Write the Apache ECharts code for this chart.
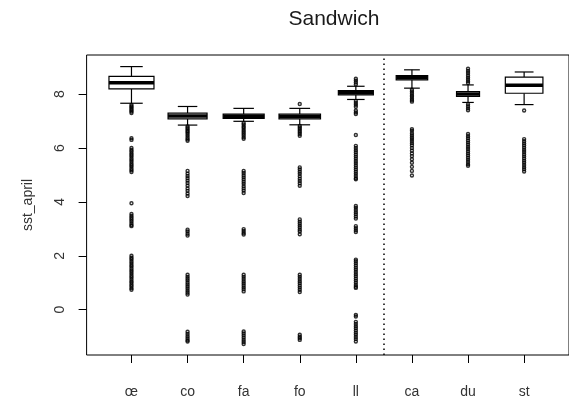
<!DOCTYPE html>
<html>
<head>
<meta charset="utf-8">
<script src="https://cdn.jsdelivr.net/npm/echarts@6/dist/echarts.min.js"></script>
<style>
  html, body { margin: 0; padding: 0; background: #fff; }
  #chart { width: 569px; height: 403px; }
</style>
</head>
<body>
<div id="chart"></div>
<script>
// Site groups along the x axis
const categories = ['œ', 'co', 'fa', 'fo', 'll', 'ca', 'du', 'st'];

// Box statistics for sst_april per site
const lowerWhisker = [7.66, 6.85, 6.99, 6.86, 7.80, 8.22, 7.69, 7.61];
const q1           = [8.19, 7.08, 7.10, 7.08, 7.97, 8.53, 7.91, 8.03];
const median       = [8.42, 7.19, 7.18, 7.17, 8.05, 8.61, 8.00, 8.33];
const q3           = [8.66, 7.29, 7.26, 7.26, 8.13, 8.69, 8.09, 8.63];
const upperWhisker = [9.02, 7.54, 7.47, 7.47, 8.29, 8.90, 8.34, 8.82];

// Points beyond the whiskers, one list per site
const outliers = [
  [7.60, 7.55, 7.50, 7.45, 7.40, 7.35, 7.30, 6.36, 6.30,
   6.00, 5.93, 5.87, 5.80, 5.74, 5.68, 5.61, 5.55, 5.49, 5.42, 5.36, 5.30, 5.23, 5.17, 5.11,
   3.95, 3.55, 3.48, 3.41, 3.35, 3.28, 3.21, 3.14, 3.10,
   2.00, 1.93, 1.87, 1.80, 1.73, 1.66, 1.60, 1.53, 1.46, 1.40, 1.33, 1.26, 1.20, 1.13, 1.06, 1.00, 0.93, 0.87, 0.80, 0.74],
  [6.80, 6.74, 6.69, 6.63, 6.58, 6.52, 6.45, 6.38, 6.32, 6.27,
   5.15, 5.05, 4.96, 4.88, 4.79, 4.70, 4.60, 4.50, 4.41, 4.31, 4.22,
   2.97, 2.90, 2.82, 2.75,
   1.30, 1.22, 1.15, 1.08, 1.00, 0.93, 0.85, 0.78, 0.70, 0.63, 0.56,
   -0.82, -0.90, -0.98, -1.06, -1.13, -1.18],
  [6.93, 6.87, 6.80, 6.74, 6.67, 6.60, 6.54, 6.47, 6.40, 6.34,
   5.15, 5.07, 4.99, 4.91, 4.83, 4.75, 4.67, 4.58, 4.50, 4.42, 4.33,
   2.99, 2.92, 2.85, 2.79,
   1.30, 1.22, 1.14, 1.06, 0.98, 0.91, 0.83, 0.76, 0.68,
   -0.81, -0.88, -0.96, -1.04, -1.12, -1.20, -1.27],
  [7.63, 6.82, 6.76, 6.70, 6.64, 6.58, 6.52, 6.45,
   5.28, 5.20, 5.12, 5.04, 4.95, 4.86, 4.78, 4.69, 4.60,
   3.35, 3.27, 3.20, 3.12, 3.05, 2.97, 2.90, 2.80,
   1.30, 1.22, 1.14, 1.06, 0.98, 0.90, 0.82, 0.74, 0.66,
   -0.93, -1.00, -1.06, -1.12],
  [8.36, 8.43, 8.50, 8.57, 7.74, 7.67, 7.60, 7.53, 7.39, 7.32, 7.26,
   6.48, 6.08, 6.00, 5.92, 5.84, 5.76, 5.68, 5.60, 5.52, 5.44, 5.36, 5.28, 5.20, 5.12, 5.04, 4.96, 4.88, 4.84,
   3.85, 3.78, 3.70, 3.62, 3.54, 3.46, 3.38, 3.10, 3.02, 2.95, 2.88,
   1.86, 1.80, 1.72, 1.64, 1.56, 1.48, 1.40, 1.32, 1.24, 1.16, 1.08, 1.00, 0.92, 0.85, 0.81,
   -0.19, -0.25, -0.45, -0.53, -0.61, -0.69, -0.77, -0.85, -0.93, -1.01, -1.09, -1.18],
  [8.16, 8.10, 8.03, 7.96, 7.90, 7.83, 7.77, 7.72,
   6.70, 6.64, 6.55, 6.47, 6.40, 6.33, 6.26, 6.18, 6.10, 6.00, 5.90, 5.80, 5.70, 5.58, 5.45, 5.30, 5.15, 4.98],
  [8.94, 8.86, 8.78, 8.70, 8.62, 8.55, 8.48, 8.41, 7.62, 7.55, 7.47, 7.40,
   6.52, 6.44, 6.36, 6.28, 6.20, 6.12, 6.04, 5.96, 5.88, 5.80, 5.72, 5.64, 5.56, 5.48, 5.40, 5.34],
  [7.39, 6.33, 6.25, 6.17, 6.09, 6.01, 5.93, 5.85, 5.77, 5.69, 5.61, 5.53, 5.45, 5.37, 5.29, 5.21, 5.13]
];

// Axis tick values
const yTicks = [0, 2, 4, 6, 8];
const xTicks = categories.map((_, i) => i + 1);

// Drawing widths of each box (pixels), proportional to group size
const boxWidthPx = [45, 39, 41, 41.5, 35, 31.5, 23, 37.6];

const boxData = categories.map((_, i) =>
  [i + 1, lowerWhisker[i], q1[i], median[i], q3[i], upperWhisker[i]]);

const outlierData = [];
outliers.forEach((list, i) => list.forEach(v => outlierData.push([i + 1, v])));

const ink = '#000';
const textColor = '#333';
const font = 'Liberation Sans, Arial, sans-serif';

function renderBox(params, api) {
  const x = api.value(0);
  const pLo = api.coord([x, api.value(1)]);
  const pQ1 = api.coord([x, api.value(2)]);
  const pMed = api.coord([x, api.value(3)]);
  const pQ3 = api.coord([x, api.value(4)]);
  const pHi = api.coord([x, api.value(5)]);
  const w = boxWidthPx[params.dataIndex];
  const cx = pLo[0];
  const thin = { stroke: ink, lineWidth: 1.2 };
  return {
    type: 'group',
    children: [
      { type: 'line', shape: { x1: cx, y1: pQ3[1], x2: cx, y2: pHi[1] }, style: thin },
      { type: 'line', shape: { x1: cx, y1: pQ1[1], x2: cx, y2: pLo[1] }, style: thin },
      { type: 'line', shape: { x1: cx - w / 4, y1: pHi[1], x2: cx + w / 4, y2: pHi[1] }, style: thin },
      { type: 'line', shape: { x1: cx - w / 4, y1: pLo[1], x2: cx + w / 4, y2: pLo[1] }, style: thin },
      { type: 'rect', shape: { x: cx - w / 2, y: pQ3[1], width: w, height: pQ1[1] - pQ3[1] },
        style: { fill: '#fff', stroke: ink, lineWidth: 1.2 } },
      { type: 'line', shape: { x1: cx - w / 2, y1: pMed[1], x2: cx + w / 2, y2: pMed[1] },
        style: { stroke: ink, lineWidth: 3.5 } }
    ]
  };
}

const chart = echarts.init(document.getElementById('chart'), null, { renderer: 'canvas' });
chart.setOption({
  animation: false,
  backgroundColor: '#fff',
  title: {
    text: 'Sandwich',
    left: 329,
    textAlign: 'center',
    top: 4,
    textStyle: { fontFamily: font, fontSize: 21, fontWeight: 'normal', color: '#1a1a1a' }
  },
  grid: {
    left: 86.6, top: 55, width: 487, height: 300,
    show: true, borderColor: ink, borderWidth: 1, backgroundColor: 'transparent'
  },
  xAxis: {
    type: 'value', min: 0.2, max: 8.8,
    axisLine: { show: false, onZero: false },
    splitLine: { show: false },
    axisTick: { show: true, customValues: xTicks, length: 8, lineStyle: { color: ink } },
    axisLabel: {
      customValues: xTicks, margin: 30, color: textColor, fontFamily: font, fontSize: 14,
      formatter: v => categories[Math.round(v) - 1] || ''
    }
  },
  yAxis: {
    type: 'value', min: -1.68, max: 9.45,
    name: 'sst_april', nameLocation: 'middle', nameGap: 51,
    nameTextStyle: { color: textColor, fontFamily: font, fontSize: 14 },
    axisLine: { show: false, onZero: false },
    splitLine: { show: false },
    axisTick: { show: true, customValues: yTicks, length: 8, lineStyle: { color: ink } },
    axisLabel: {
      customValues: yTicks, rotate: 90, margin: 19, color: textColor, fontFamily: font, fontSize: 14
    }
  },
  series: [
    {
      type: 'custom',
      renderItem: renderBox,
      data: boxData,
      encode: { x: 0, y: [1, 2, 3, 4, 5] },
      z: 3,
      markLine: {
        silent: true,
        symbol: 'none',
        label: { show: false },
        lineStyle: { color: ink, type: [1.5, 3.5], width: 1.5 },
        data: [{ xAxis: 5.5 }]
      }
    },
    {
      type: 'scatter',
      data: outlierData,
      symbol: 'circle',
      symbolSize: 3,
      itemStyle: { color: 'rgba(0,0,0,0)', borderColor: ink, borderWidth: 1.4 },
      z: 4
    }
  ]
});
</script>
</body>
</html>
